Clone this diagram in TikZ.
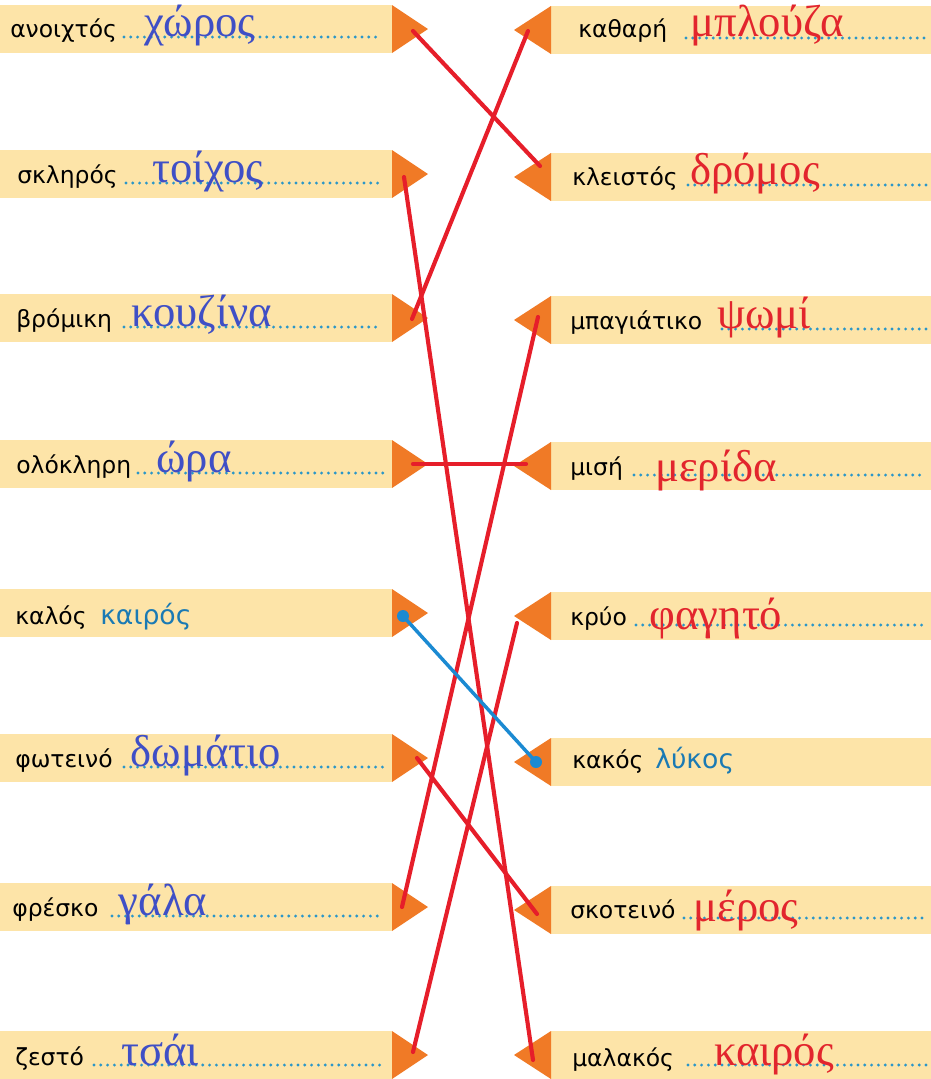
\documentclass[tikz,border=0pt]{standalone}
\usepackage{fontspec}
\setmainfont{Liberation Serif}
\newfontfamily\labf{DejaVu Sans}
\definecolor{boxc}{HTML}{FDE4A8}
\definecolor{tric}{HTML}{F07A26}
\definecolor{dotc}{HTML}{2A96C8}
\definecolor{ansb}{HTML}{3F4FC6}
\definecolor{ansr}{HTML}{E2252D}
\definecolor{tealc}{HTML}{1A7AB4}
\definecolor{linec}{HTML}{E61E2A}
\definecolor{bluel}{HTML}{1B8AD2}
\tikzset{
  lab/.style={font=\labf\fontsize{17.6}{21}\selectfont, text=black, inner sep=0pt, anchor=base west},
  tlab/.style={font=\labf\fontsize{20}{23}\selectfont, text=tealc, inner sep=0pt, anchor=base west},
  ansB/.style={font=\fontsize{33.5}{38}\selectfont, text=ansb, inner sep=0pt, anchor=base},
  ansR/.style={font=\fontsize{33.5}{38}\selectfont, text=ansr, inner sep=0pt, anchor=base},
  dotl/.style={dotc, line width=2.4pt, dash pattern=on 0pt off 5.1pt, line cap=round},
  redline/.style={linec, line width=3.1pt, line cap=round},
  blueline/.style={bluel, line width=2.6pt, line cap=round},
}
\begin{document}
\begin{tikzpicture}[x=0.75pt,y=-0.75pt]
\useasboundingbox (0,0) rectangle (931,1079);
% boxes
\foreach \y in {29,174,318,464,613,758,907,1055}{
  \fill[boxc] (0,\y-24) rectangle (392,\y+24);
  \fill[tric] (392,\y-24) -- (428,\y) -- (392,\y+24) -- cycle;
}
\foreach \y in {30,177,320,466,616,762,910,1055}{
  \fill[boxc] (551,\y-24) rectangle (931,\y+24);
  \fill[tric] (551,\y-24) -- (514,\y) -- (551,\y+24) -- cycle;
}
% dotted lines left
\draw[dotl] (124,37) -- (376,37);
\draw[dotl] (126,183) -- (384,183);
\draw[dotl] (124,327) -- (380,327);
\draw[dotl] (138,473) -- (384,473);
\draw[dotl] (124,767) -- (384,767);
\draw[dotl] (112,916) -- (380,916);
\draw[dotl] (94,1065) -- (380,1065);
% dotted lines right
\draw[dotl] (686,38) -- (926,38);
\draw[dotl] (688,185) -- (926,185);
\draw[dotl] (722,329) -- (926,329);
\draw[dotl] (634,475) -- (926,475);
\draw[dotl] (636,625) -- (926,625);
\draw[dotl] (684,918) -- (926,918);
\draw[dotl] (688,1065) -- (926,1065);
% left labels
\node[lab] (l1) at (10,37) {ανοιχτός};
\node[lab] (l2) at (17,183) {σκληρός};
\node[lab] (l3) at (16,327) {βρόμικη};
\node[lab] (l4) at (16,473) {ολόκληρη};
\node[lab] (l5) at (15,624) {καλός};
\node[tlab] (l5b) at (100,624) {καιρός};
\node[lab] (l6) at (15,767) {φωτεινό};
\node[lab] (l7) at (12,916) {φρέσκο};
\node[lab] (l8) at (15,1065) {ζεστό};
% left answers
\node[ansB] (la1) at (200,36) {χώρος};
\node[ansB] (la2) at (208,182) {τοίχος};
\node[ansB] (la3) at (202,326) {κουζίνα};
\node[ansB] (la4) at (194,472) {ώρα};
\node[ansB] (la6) at (206,766) {δωμάτιο};
\node[ansB] (la7) at (163,915) {γάλα};
\node[ansB] (la8) at (160,1065) {τσάι};
% right labels
\node[lab] (r1) at (578,37) {καθαρή};
\node[lab] (r2) at (572,185) {κλειστός};
\node[lab] (r3) at (570,329) {μπαγιάτικο};
\node[lab] (r4) at (570,475) {μισή};
\node[lab] (r5) at (570,625) {κρύο};
\node[lab] (r6) at (572,768) {κακός};
\node[tlab] (r6b) at (655,768) {λύκος};
\node[lab] (r7) at (570,918) {σκοτεινό};
\node[lab] (r8) at (572,1066) {μαλακός};
% right answers
\node[ansR] (ra1) at (767,36) {μπλούζα};
\node[ansR] (ra2) at (755,184) {δρόμος};
\node[ansR] (ra3) at (764,328) {ψωμί};
\node[ansR] (ra4) at (716,481) {μερίδα};
\node[ansR] (ra5) at (716,629) {φαγητό};
\node[ansR] (ra7) at (746,921) {μέρος};
\node[ansR] (ra8) at (774,1065) {καιρός};
% connector ends
\coordinate (a1) at (413,31);
\coordinate (a2) at (404,177);
\coordinate (a3) at (412,319);
\coordinate (a4) at (413,464);
\coordinate (a5) at (403,616);
\coordinate (a6) at (417,758);
\coordinate (a7) at (402,907);
\coordinate (a8) at (413,1052);
\coordinate (b1) at (528,31);
\coordinate (b2) at (540,166);
\coordinate (b3) at (538,317);
\coordinate (b4) at (526,464);
\coordinate (b5) at (517,623);
\coordinate (b6) at (536,762);
\coordinate (b7) at (537,914);
\coordinate (b8) at (533,1060);
% connectors
\draw[redline] (a1) -- (b2);
\draw[redline] (a2) -- (b8);
\draw[redline] (a3) -- (b1);
\draw[redline] (a4) -- (b4);
\draw[redline] (a6) -- (b7);
\draw[redline] (a7) -- (b3);
\draw[redline] (a8) -- (b5);
\draw[blueline] (a5) -- (b6);
\fill[bluel] (a5) circle (6);
\fill[bluel] (b6) circle (6);
\end{tikzpicture}
\end{document}
